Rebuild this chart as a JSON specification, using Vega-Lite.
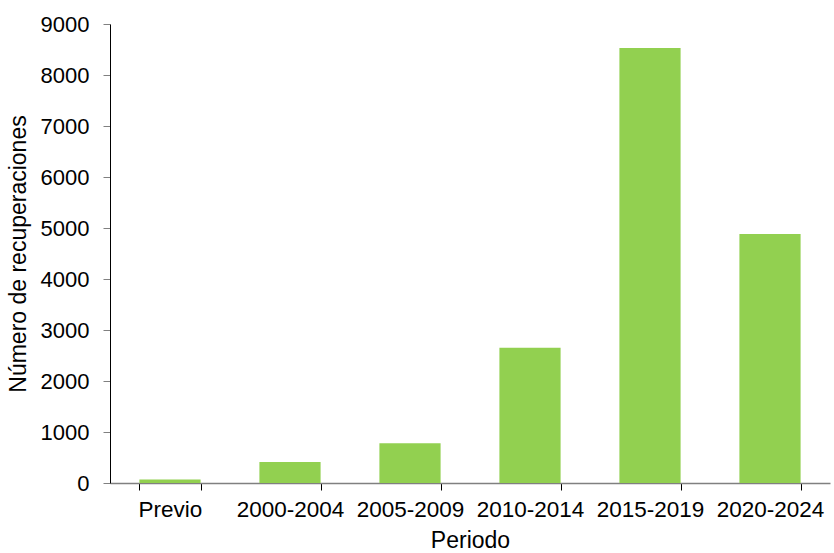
{
  "$schema": "https://vega.github.io/schema/vega-lite/v6.json",
  "width": 720,
  "height": 459,
  "autosize": {"type": "none"},
  "padding": {"left": 110, "top": 24, "right": 4, "bottom": 70},
  "background": "white",
  "config": {
    "view": {"stroke": null},
    "font": "Liberation Sans",
    "axis": {
      "labelFont": "Liberation Sans",
      "titleFont": "Liberation Sans",
      "labelColor": "#000000",
      "titleColor": "#000000",
      "titleFontWeight": "normal",
      "titleFontSize": 23,
      "grid": false
    }
  },
  "data": {
    "values": [
      {"periodo": "Previo", "recuperaciones": 70},
      {"periodo": "2000-2004", "recuperaciones": 410},
      {"periodo": "2005-2009", "recuperaciones": 780},
      {"periodo": "2010-2014", "recuperaciones": 2650},
      {"periodo": "2015-2019", "recuperaciones": 8530},
      {"periodo": "2020-2024", "recuperaciones": 4880}
    ]
  },
  "mark": {"type": "bar", "color": "#92D050"},
  "encoding": {
    "x": {
      "field": "periodo",
      "type": "nominal",
      "sort": null,
      "title": "Periodo",
      "scale": {"paddingInner": 0.49, "paddingOuter": 0.245},
      "axis": {
        "labelAngle": 0,
        "labelFontSize": 22.5,
        "tickBand": "extent",
        "tickSize": 7,
        "tickColor": "#000000",
        "domainColor": "#808080",
        "domainWidth": 1.5,
        "labelPadding": 8,
        "titlePadding": 9
      }
    },
    "y": {
      "field": "recuperaciones",
      "type": "quantitative",
      "title": "Número de recuperaciones",
      "scale": {"domain": [0, 9000], "nice": false},
      "axis": {
        "values": [0, 1000, 2000, 3000, 4000, 5000, 6000, 7000, 8000, 9000],
        "format": "d",
        "labelFontSize": 22,
        "tickSize": 7,
        "tickColor": "#808080",
        "domainColor": "#000000",
        "labelPadding": 14,
        "titlePadding": 10
      }
    }
  }
}
